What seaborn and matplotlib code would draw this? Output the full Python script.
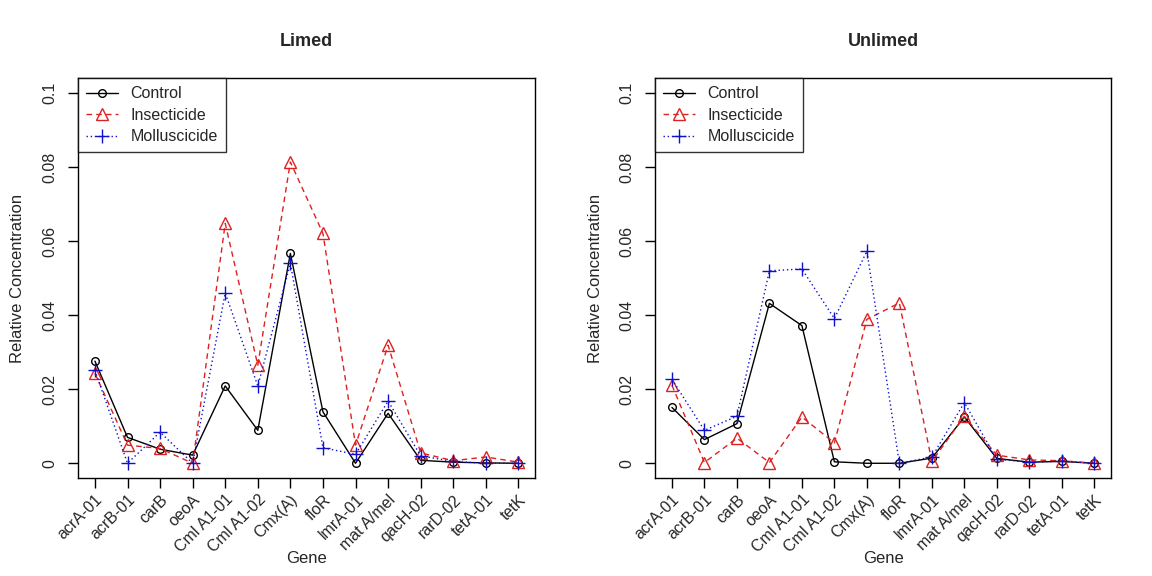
import numpy as np
import pandas as pd
import seaborn as sns
import matplotlib.pyplot as plt

genes = ['acrA-01', 'acrB-01', 'carB', 'oeoA', 'Cml A1-01', 'Cml A1-02', 'Cmx(A)',
         'floR', 'lmrA-01', 'mat A/mel', 'qacH-02', 'rarD-02', 'tetA-01', 'tetK']
treatments = ['Control', 'Insecticide', 'Molluscicide']

# Limed
limed_control = [0.0276, 0.0070, 0.0038, 0.0022, 0.0209, 0.0089, 0.0567,
                 0.0139, 0.0000, 0.0135, 0.0008, 0.0003, 0.0001, 0.0000]
limed_insecticide = [0.0243, 0.0049, 0.0040, 0.0000, 0.0648, 0.0265, 0.0814,
                     0.0621, 0.0049, 0.0319, 0.0028, 0.0007, 0.0017, 0.0003]
limed_molluscicide = [0.0251, 0.0000, 0.0084, 0.0000, 0.0460, 0.0209, 0.0540,
                      0.0042, 0.0024, 0.0168, 0.0020, 0.0005, 0.0000, 0.0000]

# Unlimed
unlimed_control = [0.0151, 0.0064, 0.0107, 0.0432, 0.0372, 0.0004, 0.0000,
                   0.0000, 0.0014, 0.0125, 0.0013, 0.0003, 0.0005, 0.0000]
unlimed_insecticide = [0.0211, 0.0002, 0.0068, 0.0002, 0.0125, 0.0055, 0.0389,
                       0.0433, 0.0005, 0.0127, 0.0022, 0.0009, 0.0007, 0.0000]
unlimed_molluscicide = [0.0227, 0.0089, 0.0127, 0.0520, 0.0525, 0.0391, 0.0573,
                        0.0000, 0.0017, 0.0164, 0.0011, 0.0003, 0.0006, 0.0000]

colors = {'Control': 'black', 'Insecticide': '#DF2020', 'Molluscicide': '#1010CC'}
markers = {'Control': 'o', 'Insecticide': '^', 'Molluscicide': '+'}
styles = {'Control': '-', 'Insecticide': (0, (4, 3)), 'Molluscicide': (0, (1, 2))}
msizes = {'Control': 5.5, 'Insecticide': 9, 'Molluscicide': 10}


def make_df(vals):
    rows = []
    for t, v in zip(treatments, vals):
        for i, g in enumerate(genes):
            rows.append({'Gene': g, 'pos': i, 'Treatment': t, 'value': v[i]})
    return pd.DataFrame(rows)


def panel(ax, df, title):
    for t in treatments:
        sub = df[df['Treatment'] == t]
        sns.lineplot(data=sub, x='pos', y='value', ax=ax, color=colors[t],
                     marker=markers[t], linestyle=styles[t], markersize=msizes[t],
                     markerfacecolor='none', markeredgecolor=colors[t],
                     markeredgewidth=1.0, linewidth=1.0, label=t)
    ax.set_xlim(-0.52, 13.52)
    ax.set_ylim(-0.004, 0.104)
    ax.set_xticks(range(len(genes)))
    ax.set_xticklabels(genes, rotation=45, ha='right', rotation_mode='anchor')
    ax.set_yticks([0, 0.02, 0.04, 0.06, 0.08, 0.1])
    ax.set_yticklabels(['0', '0.02', '0.04', '0.06', '0.08', '0.1'],
                       rotation=90, va='center')
    ax.tick_params(direction='out', length=7, width=1, labelsize=11.5, pad=3,
                   bottom=True, left=True, color='black')
    ax.tick_params(axis='y', pad=8)
    ax.set_xlabel('Gene', fontsize=12, labelpad=-3)
    ax.set_ylabel('Relative Concentration', fontsize=12, labelpad=12)
    ax.set_title(title, fontsize=13, fontweight='bold', pad=23)
    for s in ax.spines.values():
        s.set_color('black')
        s.set_linewidth(1)
    leg = ax.legend(loc='upper left', frameon=True, fancybox=False,
                    edgecolor='black', borderaxespad=0, fontsize=11.5,
                    handlelength=2.0, labelspacing=0.4, borderpad=0.5,
                    handletextpad=0.8)
    leg.get_frame().set_linewidth(1)


sns.set_style('white')
plt.rcParams['font.family'] = ['Liberation Sans', 'DejaVu Sans']

fig = plt.figure(figsize=(11.52, 5.76), dpi=100)
ax1 = fig.add_axes([0.0677, 0.170, 0.397, 0.694])
ax2 = fig.add_axes([0.5686, 0.170, 0.396, 0.694])

panel(ax1, make_df([limed_control, limed_insecticide, limed_molluscicide]), 'Limed')
panel(ax2, make_df([unlimed_control, unlimed_insecticide, unlimed_molluscicide]), 'Unlimed')

fig.savefig('out.png', dpi=100, facecolor='white')
